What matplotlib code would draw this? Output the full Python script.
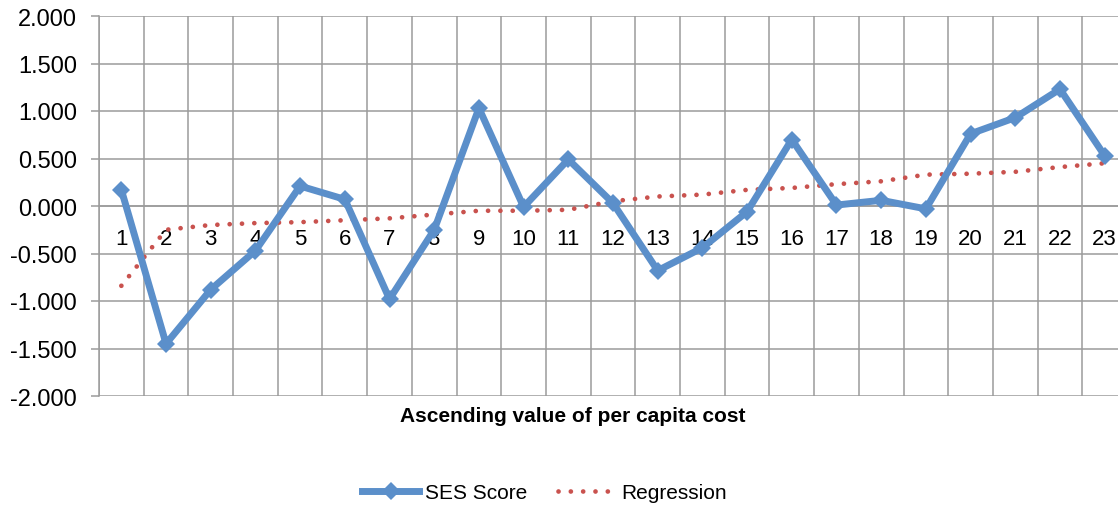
import matplotlib
matplotlib.use("Agg")
import matplotlib.pyplot as plt
import numpy as np

plt.rcParams['font.family'] = ['Liberation Sans', 'DejaVu Sans']

categories = [str(i) for i in range(1, 24)]
ses_score = [0.17, -1.45, -0.88, -0.47, 0.21, 0.07, -0.98, -0.25, 1.03, -0.01,
             0.49, 0.03, -0.68, -0.44, -0.06, 0.70, 0.01, 0.06, -0.03, 0.76,
             0.93, 1.23, 0.53]
regression = [-0.84, -0.25, -0.20, -0.18, -0.17, -0.15, -0.13, -0.09, -0.05, -0.05,
              -0.04, 0.05, 0.10, 0.12, 0.17, 0.19, 0.23, 0.26, 0.33, 0.34,
              0.36, 0.41, 0.45]
y_ticks = [-2.0, -1.5, -1.0, -0.5, 0.0, 0.5, 1.0, 1.5, 2.0]

W, H = 1118, 506
fig = plt.figure(figsize=(W / 100, H / 100), dpi=100)
ax = fig.add_axes([99 / W, (H - 397) / H, (1127 - 99) / W, 380 / H])

x = np.arange(len(categories))
grid_c = '#9b9b9b'

ax.plot(x, regression, color='#C9524E', lw=3.4, linestyle=(0, (0.01, 2.6)),
        dash_capstyle='round', label='Regression', zorder=3)
ax.plot(x, ses_score, color='#5B8FCA', lw=5, marker='D', markersize=9.5,
        markeredgewidth=0, label='SES Score', zorder=4)

ax.set_xlim(-0.5, len(categories) - 0.5)
ax.set_ylim(-2, 2)

ax.set_xticks(x)
ax.set_xticks(np.arange(len(categories) + 1) - 0.5, minor=True)
ax.set_yticks(y_ticks)
ax.tick_params(axis='y', length=6, color=grid_c, width=1.1, pad=10, labelsize=17)
ax.tick_params(axis='x', which='major', length=0, pad=16, labelsize=16)
ax.tick_params(axis='x', which='minor', length=0)
ax.set_xticklabels(categories)
ax.set_yticklabels([f"{v:.3f}" for v in y_ticks])

ax.grid(True, axis='y', color=grid_c, lw=1.1)
ax.grid(True, axis='x', which='minor', color=grid_c, lw=1.1)
ax.grid(False, axis='x', which='major')
ax.set_axisbelow(True)

ax.spines['bottom'].set_position(('data', 0))
ax.spines['bottom'].set_color(grid_c)
ax.spines['left'].set_color(grid_c)
ax.spines['left'].set_linewidth(1.1)
ax.spines['bottom'].set_linewidth(1.1)
ax.spines['top'].set_visible(False)
ax.spines['right'].set_visible(False)

fig.text(572.5 / W, 1 - 416 / H, 'Ascending value of per capita cost',
         fontsize=15, fontweight='bold', ha='center', va='center')

handles, labels = ax.get_legend_handles_labels()
leg = fig.legend([handles[1], handles[0]], [labels[1], labels[0]],
                 loc='center', bbox_to_anchor=(544.5 / W, 1 - 494 / H),
                 ncol=2, frameon=False, fontsize=15, handlelength=2.7,
                 handletextpad=0.3, columnspacing=1.5, borderaxespad=0,
                 borderpad=0)

fig.savefig('out.png', dpi=100)
